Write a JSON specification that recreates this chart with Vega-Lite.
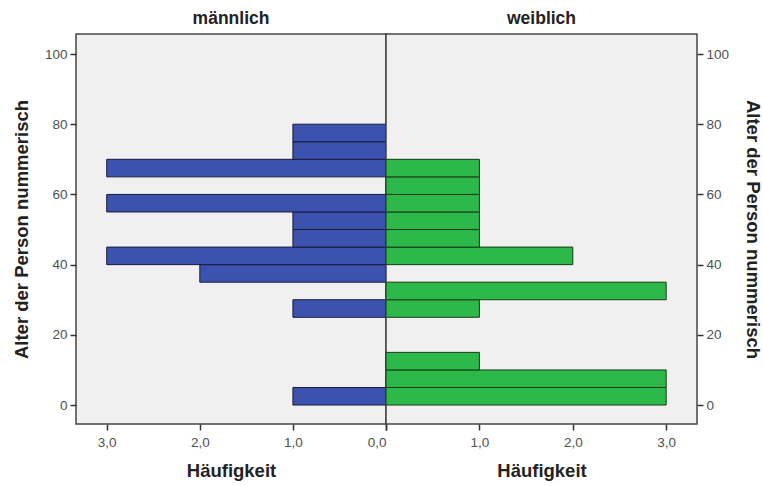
{
  "$schema": "https://vega.github.io/schema/vega-lite/v6.json",
  "padding": {"left": 11, "top": 8, "right": 5, "bottom": 5},
  "background": "white",
  "spacing": 0,
  "bounds": "flush",
  "datasets": {
    "m": [
      {"lo": 0, "hi": 5, "n": 1},
      {"lo": 25, "hi": 30, "n": 1},
      {"lo": 35, "hi": 40, "n": 2},
      {"lo": 40, "hi": 45, "n": 3},
      {"lo": 45, "hi": 50, "n": 1},
      {"lo": 50, "hi": 55, "n": 1},
      {"lo": 55, "hi": 60, "n": 3},
      {"lo": 65, "hi": 70, "n": 3},
      {"lo": 70, "hi": 75, "n": 1},
      {"lo": 75, "hi": 80, "n": 1}
    ],
    "w": [
      {"lo": 0, "hi": 5, "n": 3},
      {"lo": 5, "hi": 10, "n": 3},
      {"lo": 10, "hi": 15, "n": 1},
      {"lo": 25, "hi": 30, "n": 1},
      {"lo": 30, "hi": 35, "n": 3},
      {"lo": 40, "hi": 45, "n": 2},
      {"lo": 45, "hi": 50, "n": 1},
      {"lo": 50, "hi": 55, "n": 1},
      {"lo": 55, "hi": 60, "n": 1},
      {"lo": 60, "hi": 65, "n": 1},
      {"lo": 65, "hi": 70, "n": 1}
    ]
  },
  "config": {
    "view": {"fill": "#f0f0f0", "stroke": "#444444", "strokeWidth": 1.5},
    "font": "Liberation Sans",
    "axis": {
      "labelFont": "Liberation Sans",
      "labelFontSize": 13.5,
      "labelColor": "#505050",
      "tickColor": "#333333",
      "tickSize": 6,
      "tickWidth": 1.5,
      "domain": false,
      "grid": false,
      "titleFont": "Liberation Sans",
      "titleFontSize": 18.5,
      "titleFontWeight": "bold",
      "titleColor": "#222222"
    },
    "title": {"font": "Liberation Sans", "fontSize": 17.5, "fontWeight": "bold", "color": "#222222", "offset": 7}
  },
  "hconcat": [
    {
      "title": "männlich",
      "width": 310,
      "height": 390,
      "data": {"name": "m"},
      "mark": {"type": "bar", "stroke": "#1a1a3a", "strokeWidth": 1, "color": "#3b53ae"},
      "encoding": {
        "y": {"field": "lo", "type": "quantitative",
              "scale": {"domain": [-5.4, 105.7], "nice": false, "zero": false},
              "axis": {"orient": "left", "values": [0, 20, 40, 60, 80, 100], "title": "Alter der Person nummerisch", "titlePadding": 13, "labelPadding": 3}},
        "y2": {"field": "hi"},
        "x": {"field": "n", "type": "quantitative",
              "scale": {"domain": [0, 3.33], "nice": false, "reverse": true},
              "axis": {"values": [0, 1, 2, 3], "labelExpr": "replace(format(datum.value, '.1f'), '.', ',')", "title": "Häufigkeit", "titlePadding": 13, "labelPadding": 5}},
        "x2": {"datum": 0}
      }
    },
    {
      "title": "weiblich",
      "width": 311,
      "height": 390,
      "data": {"name": "w"},
      "mark": {"type": "bar", "stroke": "#1a3a1a", "strokeWidth": 1, "color": "#2db84a"},
      "encoding": {
        "y": {"field": "lo", "type": "quantitative",
              "scale": {"domain": [-5.4, 105.7], "nice": false, "zero": false},
              "axis": {"orient": "right", "values": [0, 20, 40, 60, 80, 100], "title": "Alter der Person nummerisch", "titlePadding": 14, "labelPadding": 3}},
        "y2": {"field": "hi"},
        "x": {"field": "n", "type": "quantitative",
              "scale": {"domain": [0, 3.33], "nice": false},
              "axis": {"values": [0, 1, 2, 3], "labelExpr": "datum.value == 0 ? '' : replace(format(datum.value, '.1f'), '.', ',')", "title": "Häufigkeit", "titlePadding": 13, "labelPadding": 5}},
        "x2": {"datum": 0}
      }
    }
  ]
}
